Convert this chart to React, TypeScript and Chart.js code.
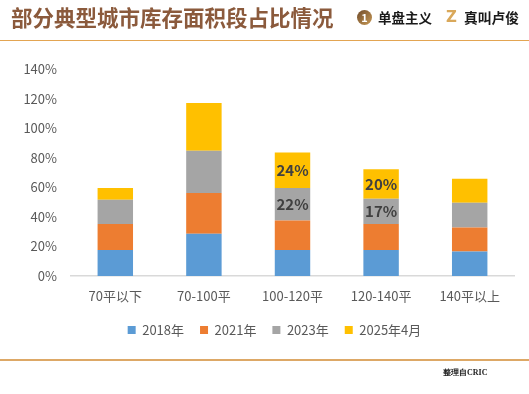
import React, { useEffect, useRef } from "react";
import { Chart, registerables } from "chart.js";

Chart.register(...registerables);

const categories = ["70平以下", "70-100平", "100-120平", "120-140平", "140平以上"];
const seriesNames = ["2018年", "2021年", "2023年", "2025年4月"];
const values2018 = [17.6, 28.5, 17.6, 17.6, 16.5];
const values2021 = [17.6, 27.7, 19.9, 17.6, 16.3];
const values2023 = [16.3, 28.5, 22, 17, 16.7];
const values2025 = [8, 32.3, 24, 20, 16.3];
const yTicks = [0, 20, 40, 60, 80, 100, 120, 140];
const labeledCategories = ["100-120平", "120-140平"];
const labeledSeries = ["2023年", "2025年4月"];

const colors = ["#5B9BD5", "#ED7D31", "#A5A5A5", "#FFC000"];
const FONT = '"Noto Sans CJK SC", "Noto Sans", sans-serif';

const segmentLabels = {
  id: "segmentLabels",
  afterDatasetsDraw(chart: any) {
    const ctx = chart.ctx;
    ctx.save();
    ctx.font = `bold 15px ${FONT}`;
    ctx.fillStyle = "#404040";
    ctx.textAlign = "center";
    ctx.textBaseline = "middle";
    chart.data.datasets.forEach((ds: any, di: number) => {
      if (!labeledSeries.includes(ds.label)) return;
      const meta = chart.getDatasetMeta(di);
      meta.data.forEach((el: any, i: number) => {
        if (!labeledCategories.includes(categories[i])) return;
        const p = el.getProps(["x", "y", "base"], true);
        ctx.fillText(`${Math.round(ds.data[i])}%`, p.x, (p.y + p.base) / 2);
      });
    });
    ctx.restore();
  },
};

function ChartCanvas() {
  const ref = useRef<HTMLCanvasElement | null>(null);
  useEffect(() => {
    if (!ref.current) return;
    const allValues = [values2018, values2021, values2023, values2025];
    const chart = new Chart(ref.current, {
      type: "bar",
      data: {
        labels: categories,
        datasets: seriesNames.map((name, i) => ({
          label: name,
          data: allValues[i],
          backgroundColor: colors[i],
          borderWidth: 0,
          categoryPercentage: 1,
          barPercentage: 0.4,
          yAxisID: "y",
        })),
      },
      options: {
        animation: false,
        responsive: false,
        maintainAspectRatio: false,
        layout: { padding: { top: 69, left: 20, right: 0, bottom: 47.5 } },
        plugins: {
          tooltip: { enabled: false },
          legend: {
            position: "bottom",
            labels: {
              boxWidth: 8,
              boxHeight: 8,
              padding: 16,
              color: "#595959",
              font: { family: FONT, size: 13 },
            },
          },
        },
        scales: {
          x: {
            stacked: true,
            grid: { display: false, drawTicks: false },
            border: { color: "#d9d9d9", width: 1.5 },
            ticks: { color: "#595959", font: { family: FONT, size: 13 }, padding: 12 },
            afterFit: (s: any) => {
              s.height = 31.5;
            },
          },
          y: {
            stacked: true,
            min: 0,
            max: 140,
            afterBuildTicks: (s: any) => {
              s.ticks = yTicks.map((v) => ({ value: v }));
            },
            grid: { display: false, drawTicks: false },
            border: { display: false },
            ticks: {
              color: "#595959",
              font: { family: FONT, size: 13 },
              padding: 14,
              callback: (v: any) => `${v}%`,
            },
            afterFit: (s: any) => {
              s.width = 51;
            },
          },
          yRight: {
            position: "right",
            min: 0,
            max: 140,
            grid: { display: false, drawTicks: false },
            border: { display: false },
            ticks: { display: false },
            afterFit: (s: any) => {
              s.width = 15;
            },
          },
        },
      },
      plugins: [segmentLabels],
    });
    return () => chart.destroy();
  }, []);
  return (
    <canvas
      ref={ref}
      width={529}
      height={394}
      style={{ position: "absolute", left: 0, top: 0, width: 529, height: 394 }}
    />
  );
}

export default function App() {
  return (
    <div
      style={{
        position: "fixed",
        left: 0,
        top: 0,
        width: 529,
        height: 394,
        background: "#ffffff",
        overflow: "hidden",
      }}
    >
      <ChartCanvas />
      <div
        style={{
          position: "absolute",
          left: 11,
          top: 4,
          fontFamily: FONT,
          fontWeight: 700,
          fontSize: 21.5,
          lineHeight: "26px",
          color: "#8B5A3C",
          whiteSpace: "nowrap",
        }}
      >
        部分典型城市库存面积段占比情况
      </div>
      <div
        style={{
          position: "absolute",
          left: 357,
          top: 10,
          width: 15,
          height: 15,
          borderRadius: "50%",
          background: "linear-gradient(135deg, #6E4A2A, #C99A55)",
          color: "#fff",
          fontFamily: FONT,
          fontWeight: 700,
          fontSize: 11,
          lineHeight: "15px",
          textAlign: "center",
        }}
      >
        1
      </div>
      <div
        style={{
          position: "absolute",
          left: 378,
          top: 8,
          fontFamily: FONT,
          fontWeight: 700,
          fontSize: 13.5,
          lineHeight: "18px",
          color: "#1a1a1a",
          whiteSpace: "nowrap",
        }}
      >
        单盘主义
      </div>
      <div
        style={{
          position: "absolute",
          left: 446,
          top: 7,
          fontFamily: '"DejaVu Sans", sans-serif',
          fontWeight: 700,
          fontSize: 15,
          lineHeight: "20px",
          color: "#D9A85A",
        }}
      >
        Z
      </div>
      <div
        style={{
          position: "absolute",
          left: 464,
          top: 8,
          fontFamily: FONT,
          fontWeight: 700,
          fontSize: 13.75,
          lineHeight: "18px",
          color: "#1a1a1a",
          whiteSpace: "nowrap",
        }}
      >
        真叫卢俊
      </div>
      <div
        style={{
          position: "absolute",
          left: 0,
          top: 40,
          width: 529,
          height: 1,
          background: "#E3A552",
        }}
      />
      <div
        style={{
          position: "absolute",
          left: 0,
          top: 359,
          width: 529,
          height: 2,
          background: "#DDA866",
        }}
      />
      <div
        style={{
          position: "absolute",
          left: 443,
          top: 367,
          fontFamily: '"Liberation Serif", "DejaVu Serif", serif',
          fontWeight: 700,
          fontSize: 8,
          lineHeight: "12px",
          color: "#222",
          whiteSpace: "nowrap",
        }}
      >
        整理自CRIC
      </div>
    </div>
  );
}
